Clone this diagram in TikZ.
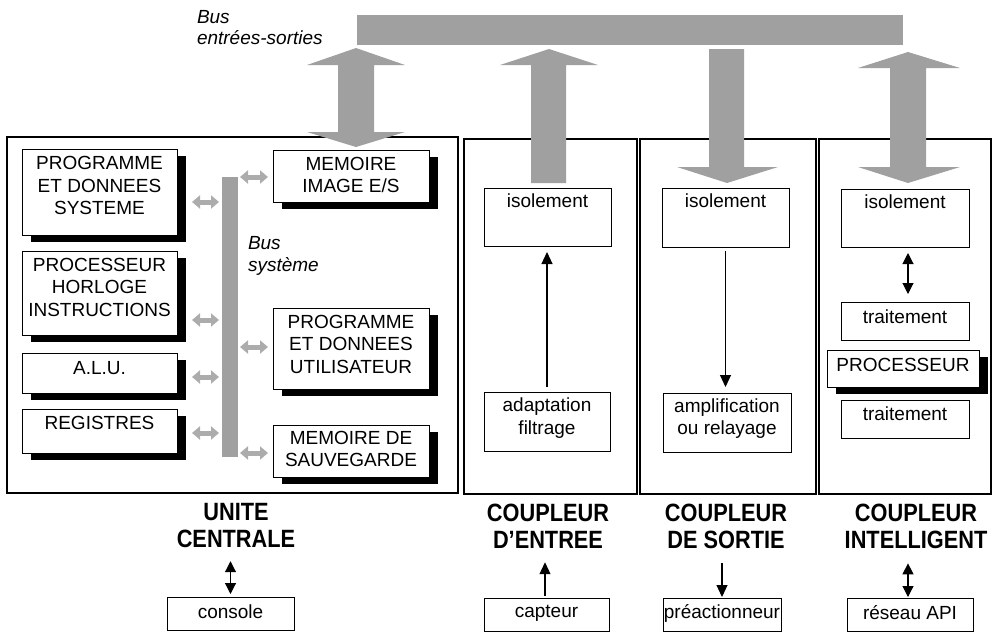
\documentclass[tikz,border=0pt]{standalone}
\usepackage{fontspec}
\setmainfont{Liberation Sans}
\newfontfamily\headfont[FakeStretch=0.87]{Liberation Sans}
\usetikzlibrary{arrows.meta,shadows,calc,fit}
\definecolor{busgray}{RGB}{160,160,160}
\definecolor{tapgray}{RGB}{172,172,172}

\begin{document}
\begin{tikzpicture}[x=1pt,y=-1pt,
  every node/.style={inner sep=0pt, outer sep=0pt},
  frame/.style={draw, line width=1.1pt},
  box/.style={draw, line width=0.8pt, fill=white},
  sbox/.style={box, drop shadow={shadow xshift=9pt, shadow yshift=-7pt, fill=black, opacity=1}},
  txt/.style={align=center, font=\fontsize{19}{22.5}\selectfont},
  itxt/.style={align=left, font=\fontsize{19}{21.5}\selectfont\itshape},
  head/.style={align=center, font=\headfont\bfseries\fontsize{25}{27}\selectfont},
  thin/.style={line width=1.1pt, -{Triangle[length=12pt,width=11pt]}},
  thinboth/.style={line width=1.1pt, {Triangle[length=11pt,width=11pt]}-{Triangle[length=11pt,width=11pt]}},
  tap/.style={draw=tapgray, line width=5pt, {Triangle[length=8pt,width=13pt]}-{Triangle[length=8pt,width=13pt]}},
]
\useasboundingbox (0,0) rectangle (994,633);

% input/output bus
\node[fill=busgray, fit={(357,15) (903,45)}] (iobus) {};
\node[itxt, anchor=west] (iolbl) at (197,27.5) {Bus\\entrées-sorties};

% module frames
\node[frame, fit={(7,137) (458,493)}] (uc) {};
\node[frame, fit={(464,139) (637,494)}] (fin) {};
\node[frame, fit={(640,139) (816,494)}] (fout) {};
\node[frame, fit={(819,139) (991,494)}] (fint) {};

% central unit: system bus
\node[fill=busgray, fit={(222,177) (238,457)}] (sysbus) {};
\node[itxt, anchor=west] (syslbl) at (248,256) {Bus\\système};

% central unit: left column
\node[sbox, fit={(22,149) (177,235)}] (psys) {};
\node[txt] (psysT) at (99.5,185.5) {PROGRAMME\\ET DONNEES\\SYSTEME};
\node[sbox, fit={(22,251) (177,335)}] (proc) {};
\node[txt] (procT) at (99.5,287) {PROCESSEUR\\HORLOGE\\INSTRUCTIONS};
\node[sbox, fit={(22,353) (177,393)}] (alu) {};
\node[txt] (aluT) at (99.5,368) {A.L.U.};
\node[sbox, fit={(22,409) (177,453)}] (reg) {};
\node[txt] (regT) at (99.5,423) {REGISTRES};

% central unit: right column
\node[sbox, fit={(273,150) (429,202)}] (mimg) {};
\node[txt] (mimgT) at (351,175) {MEMOIRE\\IMAGE E/S};
\node[sbox, fit={(273,308) (429,389)}] (puser) {};
\node[txt] (puserT) at (351,344) {PROGRAMME\\ET DONNEES\\UTILISATEUR};
\node[sbox, fit={(273,425) (429,477)}] (msauv) {};
\node[txt] (msauvT) at (351,449) {MEMOIRE DE\\SAUVEGARDE};

% taps onto the system bus
\draw[tap] ($(psys.east |- 0,202)+(15,0)$) -- ($(sysbus.west |- 0,202)+(-3,0)$);
\draw[tap] ($(proc.east |- 0,320)+(15,0)$) -- ($(sysbus.west |- 0,320)+(-3,0)$);
\draw[tap] ($(alu.east |- 0,377)+(15,0)$) -- ($(sysbus.west |- 0,377)+(-3,0)$);
\draw[tap] ($(reg.east |- 0,433)+(15,0)$) -- ($(sysbus.west |- 0,433)+(-3,0)$);
\draw[tap] ($(sysbus.east |- 0,177)+(2,0)$) -- ($(mimg.west |- 0,177)+(-5,0)$);
\draw[tap] ($(sysbus.east |- 0,347)+(2,0)$) -- ($(puser.west |- 0,347)+(-5,0)$);
\draw[tap] ($(sysbus.east |- 0,453)+(2,0)$) -- ($(msauv.west |- 0,453)+(-5,0)$);

% input coupler
\node[box, fit={(484,188) (611,246)}] (isoIn) {};
\node[txt] (isoInT) at (547.5,201) {isolement};
\node[box, fit={(484,392) (610,451)}] (adapt) {};
\node[txt] (adaptT) at (547,418) {adaptation\\filtrage};
\draw[thin, shorten <=5pt, shorten >=6pt] (adapt.north) -- (adapt.north |- isoIn.south);

% output coupler
\node[box, fit={(662,188) (789,247)}] (isoOut) {};
\node[txt] (isoOutT) at (725.5,201) {isolement};
\node[box, fit={(663,393) (791,452)}] (ampl) {};
\node[txt] (amplT) at (727,418.5) {amplification\\ou relayage};
\draw[thin, shorten <=4pt, shorten >=6pt] (isoOut.south) -- (isoOut.south |- ampl.north);

% intelligent coupler
\node[box, fit={(841,189) (969,247)}] (isoInt) {};
\node[txt] (isoIntT) at (905,202) {isolement};
\node[box, fit={(841,302) (969,340)}] (trt1) {};
\node[txt] (trt1T) at (905,317) {traitement};
\node[sbox, fit={(827,350) (979,387)}] (proc2) {};
\node[txt] (proc2T) at (903,365) {PROCESSEUR};
\node[box, fit={(841,400) (969,438)}] (trt2) {};
\node[txt] (trt2T) at (905,414) {traitement};
\draw[thinboth, shorten <=6pt, shorten >=8pt] ($(isoInt.south)+(3,0)$) -- ($(trt1.north)+(3,0)$);

% wide transfer arrows between the I/O bus and the modules
\fill[busgray] (356,48) -- (405,65) -- (374,65) -- (374,132) -- (405,132) -- (356,147)
  -- (307,132) -- (338,132) -- (338,65) -- (307,65) -- cycle;
\fill[busgray] (549,49) -- (598,65) -- (566,65) -- (566,183) -- (531,183) -- (531,65)
  -- (500,65) -- cycle;
\fill[busgray] (709,49) -- (744,49) -- (744,167) -- (778,167) -- (727,183) -- (677,167)
  -- (709,167) -- cycle;
\fill[busgray] (908,52) -- (960,68) -- (926,68) -- (926,167) -- (960,167) -- (908,183)
  -- (858,167) -- (890,167) -- (890,68) -- (858,68) -- cycle;

% module titles
\node[head] (ucT) at (236,526) {UNITE\\CENTRALE};
\node[head] (finT) at (548,526) {COUPLEUR\\D’ENTREE};
\node[head] (foutT) at (726,526) {COUPLEUR\\DE SORTIE};
\node[head] (fintT) at (916,526) {COUPLEUR\\INTELLIGENT};

% external devices
\node[box, fit={(167,597) (294,630)}] (console) {};
\node[txt] (consoleT) at (230.5,612) {console};
\node[box, fit={(484,598) (609,631)}] (capteur) {};
\node[txt] (capteurT) at (546.5,613) {capteur};
\node[box, fit={(663,598) (781,631)}] (preact) {};
\node[txt] (preactT) at (722,613) {préactionneur};
\node[box, fit={(847,598) (973,631)}] (reseau) {};
\node[txt] (reseauT) at (910,613) {réseau API};

\draw[thinboth, shorten <=3pt, shorten >=13pt] (console.north) -- (console.north |- ucT.south);
\draw[thin, shorten <=2pt, shorten >=14pt] ($(capteur.north)+(-1.5,0)$) -- ($(capteur.north |- finT.south)+(-1.5,0)$);
\draw[thin, shorten <=15pt, shorten >=1pt] (preact.north |- foutT.south) -- (preact.north);
\draw[thinboth, shorten <=15pt, shorten >=1pt] ($(reseau.north |- fintT.south)+(-2,0)$) -- ($(reseau.north)+(-2,0)$);
\end{tikzpicture}
\end{document}
